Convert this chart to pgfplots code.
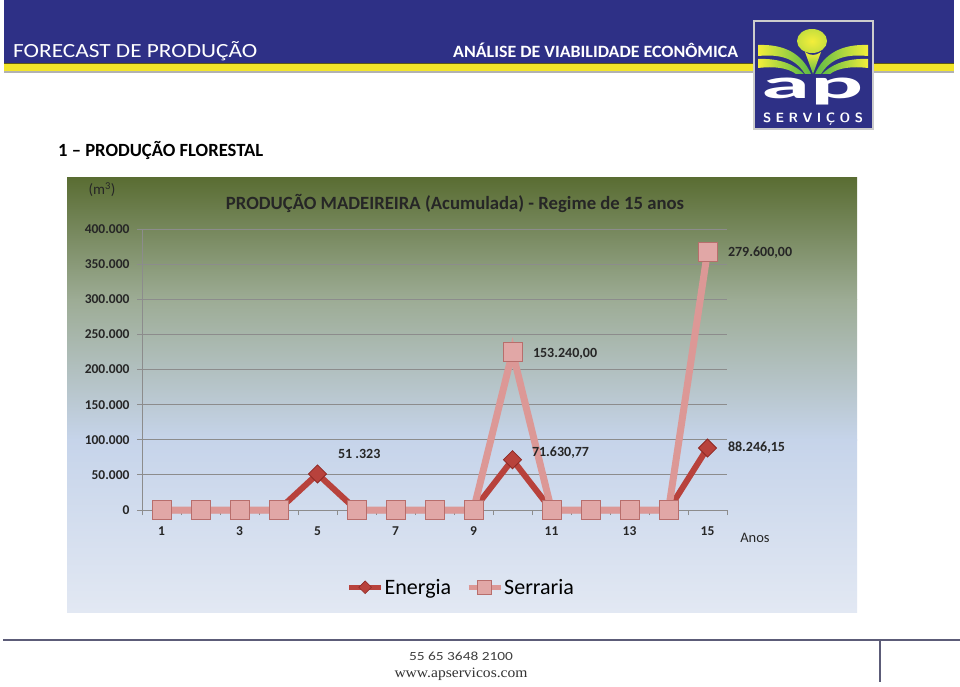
\documentclass[border=0pt]{standalone}
\usepackage{pgfplots}
\pgfplotsset{compat=1.18}
\usepackage{pgfplotstable}
\usepackage{fontspec}
\setmainfont{Carlito}
\newfontfamily\serifc{Liberation Serif}
\definecolor{hdrblue}{HTML}{2E3086}
\definecolor{hdryellow}{HTML}{F2E52A}
\definecolor{olivebg}{HTML}{5A6D33}
\definecolor{bgmid}{HTML}{9DAC95}
\definecolor{bglb}{HTML}{C6D4EA}
\definecolor{bgbot}{HTML}{E2E8F3}
\definecolor{serr}{HTML}{DC9896}
\definecolor{serrdk}{HTML}{B86E6C}
\definecolor{ener}{HTML}{B8423C}
\definecolor{enerdk}{HTML}{8E2A26}
\definecolor{gridc}{HTML}{8C8C8C}
\definecolor{footc}{HTML}{5C5C78}
\definecolor{leafy}{HTML}{F4EE3A}
\definecolor{leafg}{HTML}{5DBB46}

\pgfplotstableread{
x E S
1 0 0
2 0 0
3 0 0
4 0 0
5 51323 nan
6 0 0
7 0 0
8 0 0
9 0 0
10 71630.77 153240
11 0 0
12 0 0
13 0 0
14 0 0
15 88246.15 279600
}\datatable

\begin{document}
\begin{tikzpicture}[x=1pt,y=1pt]
\path[use as bounding box] (0,0) rectangle (960,686);
\fill[white] (0,0) rectangle (960,686);
% header band
\fill[hdrblue] (4,686) rectangle (954,623);
\fill[black!60!hdryellow] (4,623) rectangle (954,621.5);
\fill[hdryellow] (4,621.5) rectangle (954,614.5);
\fill[gray!60] (4,614.5) rectangle (954,612.5);
\node[anchor=base west, inner sep=0pt, text=white] at (13,628)
  {\resizebox{244pt}{16pt}{FORECAST DE PRODUÇÃO}};
\node[anchor=base west, inner sep=0pt, text=white] at (453,628.5)
  {\resizebox{285pt}{14.5pt}{\bfseries ANÁLISE DE VIABILIDADE ECONÔMICA}};
% logo
\fill[gray!40] (753,556) rectangle (874,666);
\fill[hdrblue] (755,558) rectangle (872,664);
\shade[left color=leafy, right color=leafg] (758,641) .. controls (785,642) and (802,632) .. (811,612)
  -- (805,612) .. controls (795,628) and (780,632) .. (758,630) -- cycle;
\shade[left color=leafy, right color=leafg] (758,627) .. controls (782,628) and (796,620) .. (804,612)
  -- (796,612) .. controls (788,618) and (775,620) .. (758,618) -- cycle;
\shade[right color=leafy, left color=leafg] (868,641) .. controls (841,642) and (824,632) .. (815,612)
  -- (821,612) .. controls (831,628) and (846,632) .. (868,630) -- cycle;
\shade[right color=leafy, left color=leafg] (868,627) .. controls (844,628) and (830,620) .. (822,612)
  -- (830,612) .. controls (838,618) and (851,620) .. (868,618) -- cycle;
\shade[inner color=leafy, outer color=leafy!70!leafg] (812,645) ellipse (15 and 12);
\shade[top color=leafy, bottom color=leafg] (805,634) -- (813,612) -- (821,634) .. controls (815,630) and (811,630) .. (805,634) -- cycle;
\node[inner sep=0pt, text=white] at (813,594)
  {\resizebox*{102pt}{27pt}{\bfseries ap}};
\node[inner sep=0pt, text=white] at (813,566.5)
  {\resizebox{100pt}{!}{\sffamily\bfseries S\,\,E\,\,R\,\,V\,\,I\,\,Ç\,\,O\,\,S}};
% section title
\node[anchor=base west, inner sep=0pt] at (58,529)
  {\resizebox{205pt}{!}{\bfseries 1 – PRODUÇÃO FLORESTAL}};
% chart background
\shade[top color=olivebg, bottom color=bgmid] (67,508) rectangle (857,386);
\shade[top color=bgmid, bottom color=bglb] (67,386.2) rectangle (857,246);
\shade[top color=bglb, bottom color=bgbot] (67,246.2) rectangle (857,74);
% chart texts
\node[font=\fontsize{18.7}{21}\selectfont\bfseries, text=black!85] at (455,483)
  {PRODUÇÃO MADEIREIRA (Acumulada) - Regime de 15 anos};
\node[font=\fontsize{15}{17}\selectfont, text=black!85] at (102,496) {(m\textsuperscript{3})};
\node[font=\fontsize{14.5}{16}\selectfont, text=black!85] at (755,148) {Anos};
% footer
\draw[footc, line width=1.8pt] (3,46) -- (960,46);
\draw[footc, line width=1.2pt] (880,46) -- (880,4);
\node[anchor=base, inner sep=0pt, text=black!75] at (461,26)
  {\resizebox{104pt}{8.5pt}{55 65 3648 2100}};
\node[anchor=base, inner sep=0pt, text=black!80] at (461,9)
  {\resizebox{133pt}{9.5pt}{\serifc www.apservicos.com}};

\begin{axis}[
  at={(142pt,176pt)}, anchor=south west,
  scale only axis, width=585pt, height=281pt,
  xmin=0.5, xmax=15.5, ymin=0, ymax=400000,
  axis x line*=bottom, axis y line*=left,
  axis line style={gridc, line width=0.8pt},
  clip=false,
  unbounded coords=jump,
  ytick={0,50000,100000,150000,200000,250000,300000,350000,400000},
  scaled y ticks=false,
  ymajorgrids, grid style={gridc, line width=0.8pt},
  xtick={1,3,5,7,9,11,13,15},
  minor xtick={0.5,1.5,2.5,3.5,4.5,5.5,6.5,7.5,8.5,9.5,10.5,11.5,12.5,13.5,14.5,15.5},
  tick align=outside, major tick length=5pt, minor tick length=5pt,
  major x tick style={draw=none},
  minor x tick style={gridc, line width=0.8pt},
  y tick style={gridc, line width=0.8pt},
  tick label style={font=\fontsize{13.5}{15}\selectfont\bfseries, text=black!85},
  xticklabel style={yshift=-8pt},
  yticklabel style={xshift=-4pt},
  legend style={at={(0.545,-0.275)}, anchor=center, draw=none, fill=none,
    legend columns=2, font=\fontsize{22}{24}\selectfont, text=black,
    /tikz/every even column/.append style={column sep=14pt},
    nodes={inner sep=1pt}},
  legend image code/.code={\draw[mark repeat=2, mark phase=2, #1]
    plot coordinates {(0pt,0pt) (16pt,0pt) (32pt,0pt)};},
  /pgf/number format/.cd, fixed, 1000 sep={.}, assume math mode=true
]
\addlegendimage{ener, line width=5pt, mark=square*, mark size=4.5pt, mark options={rotate=45, fill=ener, draw=enerdk, line width=0.6pt}}
\addlegendentry{Energia}
\addlegendimage{serr, line width=5pt, mark=square*, mark size=7pt, mark options={fill=serr!85!white, draw=serrdk, line width=0.6pt}}
\addlegendentry{Serraria}
% Energia (series 1, drawn first)
\addplot[forget plot, ener, line width=6pt, mark=square*, mark size=6.4pt,
  mark options={rotate=45, fill=ener, draw=enerdk, line width=0.8pt}]
  table[x=x, y=E]{\datatable};
% Serraria (stacked on Energia, drawn on top)
\addplot[forget plot, serr, line width=7pt, no markers] table[x=x, y expr=\thisrow{E}+\thisrow{S}]{\datatable};
\addplot[forget plot, only marks, mark=square*, mark size=9.5pt,
  mark options={fill=serr!85!white, draw=serrdk, line width=0.8pt}]
  table[x=x, y expr=\thisrow{E}+\thisrow{S}]{\datatable};
% data labels
\node[anchor=west, font=\fontsize{14}{16}\selectfont\bfseries, text=black!85, xshift=17pt, yshift=20pt] at (axis cs:5,51323) {51 .323};
\node[anchor=west, font=\fontsize{14}{16}\selectfont\bfseries, text=black!85, xshift=16pt, yshift=7pt] at (axis cs:10,71630.77) {71.630,77};
\node[anchor=west, font=\fontsize{14}{16}\selectfont\bfseries, text=black!85, xshift=17pt] at (axis cs:15,88246.15) {88.246,15};
\node[anchor=west, font=\fontsize{14}{16}\selectfont\bfseries, text=black!85, xshift=17pt, yshift=-2pt] at (axis cs:10,224870.77) {153.240,00};
\node[anchor=west, font=\fontsize{14}{16}\selectfont\bfseries, text=black!85, xshift=17pt, yshift=-1pt] at (axis cs:15,367846.15) {279.600,00};
\end{axis}
\end{tikzpicture}
\end{document}
